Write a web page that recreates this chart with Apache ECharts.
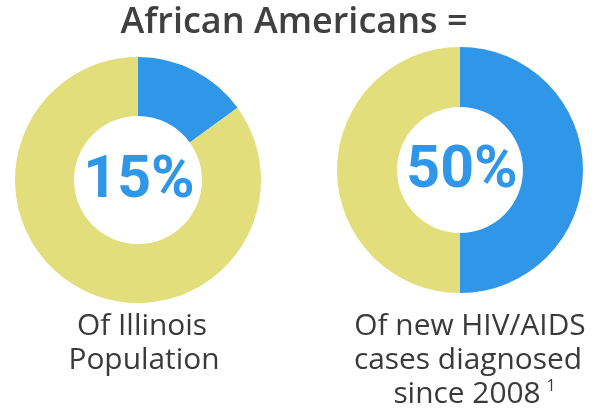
<!DOCTYPE html>
<html>
<head>
<meta charset="utf-8">
<script src="https://cdn.jsdelivr.net/npm/echarts@6/dist/echarts.min.js"></script>
<style>html,body{margin:0;padding:0;background:#fff}#c{width:599px;height:412px}</style>
</head>
<body>
<div id="c"></div>
<script>
const titleText = 'African Americans =';
const categories = ['African Americans', 'Others'];
const illinoisPopulation = [15, 85];
const newHivCases = [50, 50];
const centerLabels = ['15%', '50%'];
const leftCaption = ['Of Illinois', 'Population'];
const rightCaption = ['Of new HIV/AIDS', 'cases diagnosed', 'since 2008'];
const footnoteMark = '1';

const BLUE = '#3096e8';
const YELLOW = '#e2de7b';
const TEXT = '#3a3a3a';

function pieData(values) {
  return values.map((v, i) => ({
    name: categories[i],
    value: v,
    itemStyle: { color: i === 0 ? BLUE : YELLOW }
  }));
}

const chart = echarts.init(document.getElementById('c'), null, { renderer: 'canvas' });

function txt(text, x, y, font, fill, sx) {
  return { type: 'text', x: x, y: y, scaleX: sx || 1, silent: true,
    style: { text: text, font: font, fill: fill, textAlign: 'center', textVerticalAlign: 'middle' } };
}

const capFont = '29px "Open Sans"';
const capScale = 1.03;
const graphics = [
  txt(titleText, 294, 23, '600 36px "Open Sans"', '#404040'),
  txt(centerLabels[0], 139, 182, 'bold 59px Roboto', BLUE),
  txt(centerLabels[1], 462, 172, 'bold 59px Roboto', BLUE),
  txt(leftCaption[0], 142, 327, capFont, TEXT, capScale),
  txt(leftCaption[1], 144, 361, capFont, TEXT, capScale),
  txt(rightCaption[0], 470, 327, capFont, TEXT, capScale),
  txt(rightCaption[1], 468, 361, capFont, TEXT, capScale),
  txt(rightCaption[2], 467, 395, capFont, TEXT, capScale),
  txt(footnoteMark, 551, 386, '16px "Open Sans"', TEXT)
];

chart.setOption({
  animation: false,
  series: [
    {
      type: 'pie', center: [138, 180], radius: [64, 123], startAngle: 90, clockwise: true,
      label: { show: false }, labelLine: { show: false }, emphasis: { disabled: true },
      itemStyle: { borderWidth: 0 },
      data: pieData(illinoisPopulation)
    },
    {
      type: 'pie', center: [460, 170], radius: [63, 123], startAngle: 90, clockwise: true,
      label: { show: false }, labelLine: { show: false }, emphasis: { disabled: true },
      itemStyle: { borderWidth: 0 },
      data: pieData(newHivCases)
    }
  ],
  graphic: graphics
});
</script>
</body>
</html>
